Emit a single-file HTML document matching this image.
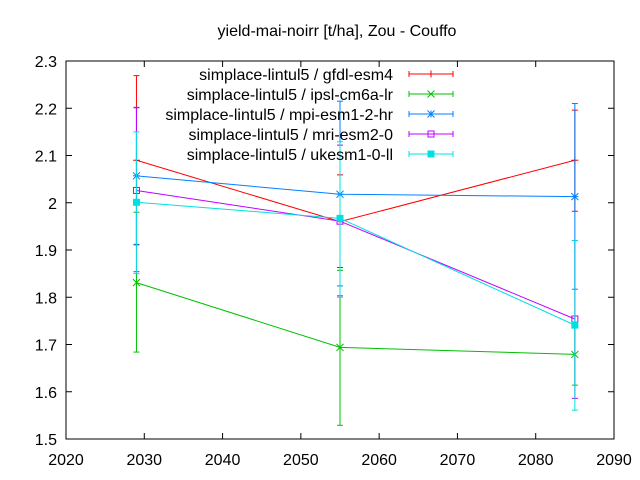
<!DOCTYPE html>
<html><head><meta charset="utf-8"><style>
html,body{margin:0;padding:0;background:#fff;}
svg{display:block;font-family:"Liberation Sans",sans-serif;}
</style></head><body>
<svg id="chart" width="640" height="480" viewBox="0 0 640 480">
<rect width="640" height="480" fill="#fff"/>
<text x="337" y="36" text-anchor="middle" font-size="16">yield-mai-noirr [t/ha], Zou - Couffo</text>
<g id="axes"></g>
<g id="series"></g>
<g id="legend"></g>
</svg>
<script>
const years = [2029, 2055, 2085];
const xTicks = [2020, 2030, 2040, 2050, 2060, 2070, 2080, 2090];
const yTicks = [1.5, 1.6, 1.7, 1.8, 1.9, 2.0, 2.1, 2.2, 2.3];
const yTickLabels = ["1.5","1.6","1.7","1.8","1.9","2","2.1","2.2","2.3"];
const names = ["simplace-lintul5 / gfdl-esm4","simplace-lintul5 / ipsl-cm6a-lr","simplace-lintul5 / mpi-esm1-2-hr","simplace-lintul5 / mri-esm2-0","simplace-lintul5 / ukesm1-0-ll"];
const gfdlVal = [2.09, 1.96, 2.09];
const gfdlLow = [1.911, 1.863, 1.982];
const gfdlHigh = [2.269, 2.059, 2.196];
const ipslVal = [1.831, 1.694, 1.679];
const ipslLow = [1.684, 1.529, 1.614];
const ipslHigh = [1.980, 1.857, 1.744];
const mpiVal = [2.057, 2.018, 2.013];
const mpiLow = [1.912, 1.824, 1.817];
const mpiHigh = [2.202, 2.215, 2.210];
const mriVal = [2.026, 1.961, 1.754];
const mriLow = [1.854, 1.803, 1.586];
const mriHigh = [2.201, 2.122, 1.920];
const ukVal = [2.001, 1.967, 1.741];
const ukLow = [1.850, 1.800, 1.561];
const ukHigh = [2.150, 2.129, 1.920];

const L=66,R=614,T=61,B=439;
const X=v=>L+(v-2020)/(2090-2020)*(R-L);
const Y=v=>B-(v-1.5)/(2.3-1.5)*(B-T);
const NS="http://www.w3.org/2000/svg";
function mk(tag,attrs,parent){const e=document.createElementNS(NS,tag);for(const k in attrs)e.setAttribute(k,attrs[k]);parent.appendChild(e);return e;}
const axes=document.getElementById('axes');
xTicks.forEach((t,i)=>{
  const x=X(t);
  const a=mk('line',{x1:x,y1:B,x2:x,y2:B-6,stroke:'#000'},axes);
  
  
  const b=mk('line',{x1:x,y1:T,x2:x,y2:T+6,stroke:'#000'},axes);
  
  
  const tx=mk('text',{x:x,y:B+26,'text-anchor':'middle','font-size':'16'},axes);
  tx.textContent=t;
  
  
});
yTicks.forEach((t,i)=>{
  const y=Y(t);
  const a=mk('line',{x1:L,y1:y,x2:L+6,y2:y,stroke:'#000'},axes);
  
  
  const b=mk('line',{x1:R,y1:y,x2:R-6,y2:y,stroke:'#000'},axes);
  
  
  const tx=mk('text',{x:L-9,y:y+6,'text-anchor':'end','font-size':'16'},axes);
  tx.textContent=yTickLabels[i];
  
  
});
const frame=mk('rect',{x:L,y:T,width:R-L,height:B-T,fill:'none',stroke:'#000'},axes);



const series=[
 {v:gfdlVal,lo:gfdlLow,hi:gfdlHigh,c:'#ff0000',m:'plus',n:'gfdl'},
 {v:ipslVal,lo:ipslLow,hi:ipslHigh,c:'#00c000',m:'cross',n:'ipsl'},
 {v:mpiVal,lo:mpiLow,hi:mpiHigh,c:'#0080ff',m:'star',n:'mpi'},
 {v:mriVal,lo:mriLow,hi:mriHigh,c:'#c000ff',m:'box',n:'mri'},
 {v:ukVal,lo:ukLow,hi:ukHigh,c:'#00e0e0',m:'fbox',n:'ukesm'}
];
function marker(g,type,x,y,c){
  const s=3.5;
  if(type==='plus'||type==='star'){mk('line',{x1:x-s,y1:y,x2:x+s,y2:y,stroke:c},g);mk('line',{x1:x,y1:y-s,x2:x,y2:y+s,stroke:c},g);}
  if(type==='cross'||type==='star'){mk('line',{x1:x-s,y1:y-s,x2:x+s,y2:y+s,stroke:c},g);mk('line',{x1:x-s,y1:y+s,x2:x+s,y2:y-s,stroke:c},g);}
  if(type==='box')mk('rect',{x:x-3,y:y-3,width:6,height:6,fill:'none',stroke:c},g);
  if(type==='fbox')mk('rect',{x:x-3.5,y:y-3.5,width:7,height:7,fill:c},g);
}
const sg=document.getElementById('series');
const lg=document.getElementById('legend');
series.forEach((s,k)=>{
  const g=mk('g',{},sg);
  
  
  const pl=mk('polyline',{points:years.map((yr,i)=>X(yr)+','+Y(s.v[i])).join(' '),fill:'none',stroke:s.c},g);
  
  
  years.forEach((yr,i)=>{
    const x=X(yr);
    const eb=mk('g',{},g);
    
    
    mk('line',{x1:x,y1:Y(s.lo[i]),x2:x,y2:Y(s.hi[i]),stroke:s.c},eb);
    mk('line',{x1:x-3,y1:Y(s.lo[i]),x2:x+3,y2:Y(s.lo[i]),stroke:s.c},eb);
    mk('line',{x1:x-3,y1:Y(s.hi[i]),x2:x+3,y2:Y(s.hi[i]),stroke:s.c},eb);
    const pg=mk('g',{},g);
    
    
    marker(pg,s.m,x,Y(s.v[i]),s.c);
  });
  const ly=74+k*20;
  const le=mk('g',{},lg);
  
  
  const tx=mk('text',{x:393,y:ly+6,'text-anchor':'end','font-size':'16'},le);
  tx.textContent=names[k];
  mk('line',{x1:409,y1:ly,x2:453,y2:ly,stroke:s.c},le);
  mk('line',{x1:409,y1:ly-3,x2:409,y2:ly+3,stroke:s.c},le);
  mk('line',{x1:453,y1:ly-3,x2:453,y2:ly+3,stroke:s.c},le);
  marker(le,s.m,431,ly,s.c);
});
</script>
</body></html>
